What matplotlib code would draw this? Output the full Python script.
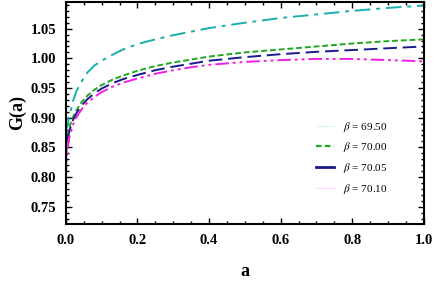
import matplotlib
matplotlib.use('Agg')
import matplotlib.pyplot as plt
from matplotlib.lines import Line2D
from matplotlib.ticker import MultipleLocator

a = [0.0, 0.002, 0.005, 0.01, 0.02, 0.03, 0.045, 0.06, 0.08, 0.1, 0.13, 0.16,
     0.2, 0.25, 0.3, 0.35, 0.4, 0.5, 0.6, 0.7, 0.8, 0.9, 1.0]

g_6950 = [0.876, 0.881, 0.889, 0.903, 0.928, 0.945, 0.962, 0.976, 0.988, 0.996,
          1.006, 1.015, 1.024, 1.032, 1.039, 1.045, 1.051, 1.060, 1.068, 1.074,
          1.080, 1.085, 1.089]
g_7000 = [0.840, 0.858, 0.870, 0.884, 0.901, 0.913, 0.927, 0.937, 0.947, 0.955,
          0.964, 0.971, 0.979, 0.987, 0.993, 0.998, 1.003, 1.010, 1.015, 1.020,
          1.025, 1.029, 1.032]
g_7005 = [0.830, 0.850, 0.864, 0.878, 0.896, 0.908, 0.921, 0.931, 0.941, 0.949,
          0.958, 0.965, 0.972, 0.980, 0.986, 0.991, 0.996, 1.002, 1.007, 1.011,
          1.014, 1.017, 1.020]
g_7010 = [0.795, 0.830, 0.850, 0.867, 0.888, 0.901, 0.915, 0.925, 0.935, 0.943,
          0.952, 0.959, 0.966, 0.974, 0.980, 0.985, 0.989, 0.994, 0.997, 0.999,
          0.999, 0.997, 0.995]

labels = [r'$\beta$ = 69.50', r'$\beta$ = 70.00', r'$\beta$ = 70.05', r'$\beta$ = 70.10']

plt.rcParams['font.family'] = ['Liberation Serif', 'DejaVu Serif']
plt.rcParams['mathtext.fontset'] = 'stix'

fig = plt.figure(figsize=(4.36, 2.83), dpi=100)
ax = fig.add_axes([0.151, 0.209, 0.821, 0.784])

c_cyan = '#1aaeae'
c_green = '#1fa81f'
c_blue = '#1a1a8c'
c_mag = '#f020e0'

ax.plot(a, g_6950, color=c_cyan, lw=1.4, ls=(0, (8, 3, 2, 3)))
ax.plot(a, g_7000, color=c_green, lw=1.4, ls=(0, (3, 1.5)))
ax.plot(a, g_7005, color=c_blue, lw=1.4, ls=(0, (7, 3)))
ax.plot(a, g_7010, color=c_mag, lw=1.4, ls=(0, (7, 2, 1.5, 2, 1.5, 2)))

ax.set_xlim(0, 1)
ax.set_ylim(0.721, 1.095)
ax.xaxis.set_major_locator(MultipleLocator(0.2))
ax.xaxis.set_minor_locator(MultipleLocator(0.05))
ax.yaxis.set_major_locator(MultipleLocator(0.05))
ax.yaxis.set_minor_locator(MultipleLocator(0.01))
ax.tick_params(which='both', direction='in', top=True, right=True, width=1.0)
ax.tick_params(which='major', length=4, labelsize=10.5, pad=7)
ax.tick_params(which='minor', length=2)
for s in ax.spines.values():
    s.set_linewidth(1.5)
for lab in ax.get_xticklabels() + ax.get_yticklabels():
    lab.set_fontweight('bold')

ax.set_xlabel('a', fontsize=13, fontweight='bold', labelpad=12)
ax.set_ylabel('G(a)', fontsize=13, fontweight='bold', labelpad=3)

handles = [
    Line2D([], [], color=c_cyan, lw=1.0, alpha=0.12),
    Line2D([], [], color=c_green, lw=1.6, ls=(0, (2.5, 1.5))),
    Line2D([], [], color=c_blue, lw=2.0),
    Line2D([], [], color=c_mag, lw=1.0, alpha=0.15),
]
ax.legend(handles, labels, loc='upper left', bbox_to_anchor=(0.70, 0.47),
          frameon=False, fontsize=8, handlelength=1.6, handletextpad=0.75,
          labelspacing=0.6, borderpad=0, borderaxespad=0)

fig.savefig('out.png', dpi=100)
